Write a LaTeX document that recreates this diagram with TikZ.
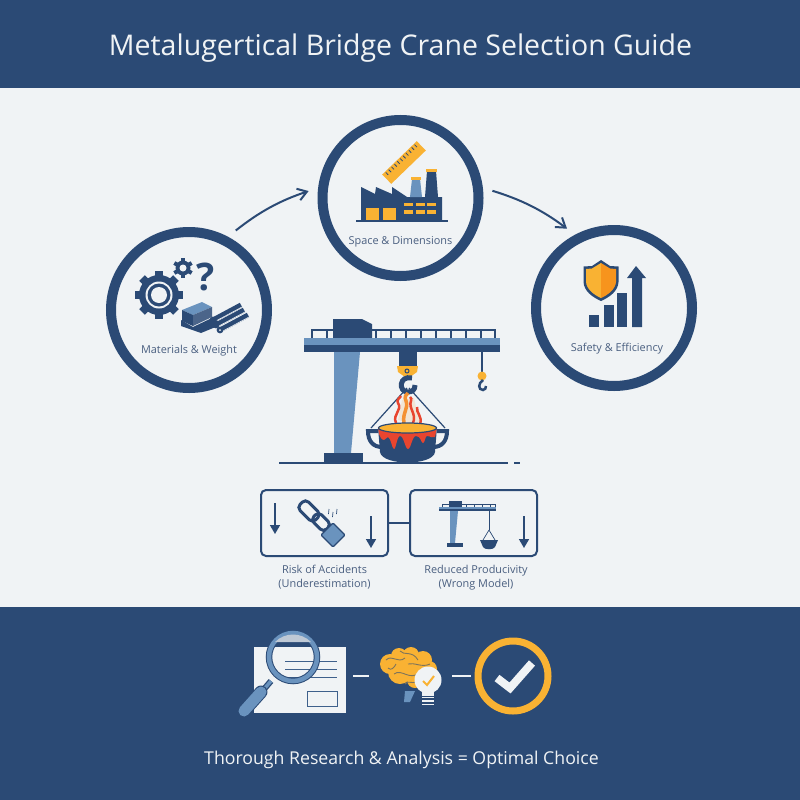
\documentclass[tikz,border=0pt]{standalone}
\usepackage{fontspec}
\setmainfont{Open Sans}
\usetikzlibrary{positioning, arrows.meta}
\definecolor{navy}{HTML}{2B4A75}
\definecolor{steel}{HTML}{6A93BE}
\definecolor{paper}{HTML}{F0F3F5}
\definecolor{amber}{HTML}{F9B233}
\definecolor{deepamber}{HTML}{F7941D}
\definecolor{flame}{HTML}{E8452F}
\definecolor{inktext}{HTML}{4A5F80}
\tikzstyle{stage} = [circle, draw=navy, line width=10pt, minimum size=156pt, inner sep=0pt]
\tikzstyle{caption} = [text=inktext, font=\fontsize{10.9}{14}\selectfont, align=center, inner sep=0pt]
\tikzstyle{outcome} = [rectangle, rounded corners=5pt, draw=navy, line width=2pt, minimum width=127pt, minimum height=66pt, inner sep=0pt]
\tikzstyle{flow} = [navy, line width=2pt, -{Straight Barb[length=9pt,width=12pt]}, shorten <=10pt, shorten >=10pt]
\tikzstyle{drop} = [navy, line width=1.6pt, -{Triangle[length=9pt,width=10pt]}]
\tikzstyle{dashlink} = [paper, line width=2pt]
\begin{document}
\begin{tikzpicture}[x=1pt, y=-1pt, node distance=41pt]
	\useasboundingbox (0,0) rectangle (800,800);
	\fill [paper] (0,0) rectangle (800,800);
	\fill [navy] (0,0) rectangle (800,88);
	\fill [navy] (0,607) rectangle (800,800);
	\node (title) [text=paper, font=\fontsize{28.5}{32}\selectfont] at (400.5,48) {Metalugertical Bridge Crane Selection Guide};
	\node (motto) [text=paper, font=\fontsize{17.7}{20}\selectfont] at (401.5,760) {Thorough Research \& Analysis = Optimal Choice};

	% three questions
	\node (mat) [stage] at (189,310) {};
	\node (space) [stage] at (400.5,198) {};
	\node (safe) [stage] at (614,308) {};
	\node (matcap) [caption, below of=mat] {Materials \& Weight};
	\node (spacecap) [caption, below of=space, yshift=-2.5pt] {Space \& Dimensions};
	\node (safecap) [caption, below of=safe, xshift=3pt] {Safety \& Efficiency};
	\draw [flow] (mat.62) to[bend left=10] (space.173);
	\draw [flow] (space.7) to[bend left=10] (safe.118);

	% gears, question mark, stock
	\foreach \a in {0,45,...,315} \fill [navy, rotate around={\a:(159,295)}] (155,271) rectangle (163,280);
	\fill [navy] (159,295) circle (20);
	\fill [paper] (159,295) circle (13.5);
	\fill [navy] (159,295) circle (11.5);
	\fill [paper] (159,295) circle (8);
	\foreach \a in {0,60,...,300} \fill [navy, rotate around={\a:(183,268)}] (181,258) rectangle (185,262);
	\fill [navy] (183,268) circle (7.5);
	\fill [paper] (183,268) circle (3.5);
	\node (quest) [text=navy, font=\fontsize{38}{40}\selectfont\bfseries, inner sep=0pt] at (206,277) {?};
	\foreach \dx/\dy in {-3/-5,0/0,4/5} {
		\draw [navy, line width=5pt] (216+\dx,325+\dy) -- (244+\dx,310+\dy);
		\draw [paper, line width=.6pt] (218+\dx,326.5+\dy) -- (245+\dx,312+\dy);
		\fill [navy] (216+\dx,325+\dy) circle (3.4);
		\fill [paper] (216+\dx,325+\dy) circle (1);
	}
	\fill [steel] (182,310) -- (202,302) -- (212,307) -- (193,315) -- cycle;
	\fill [navy] (182,310) -- (193,315) -- (193,326) -- (182,321) -- cycle;
	\fill [navy!85] (193,315) -- (212,307) -- (212,317) -- (193,326) -- cycle;
	\fill [navy] (181,320) -- (193,327) -- (212,318) -- (218,321) -- (218,326) -- (201,333) -- (181,326) -- cycle;

	% factory and ruler
	\begin{scope}[shift={(404,162.5)}, rotate=44]
		\fill [amber] (-24,-6.5) rectangle (24,6.5);
		\foreach \t in {-20,-16,...,20} \draw [navy, line width=.8pt] (\t,-5.5) -- (\t,-2);
	\end{scope}
	\fill [navy] (361,221) -- (361,187) -- (375,194) -- (376,187) -- (392,194) -- (392,187) -- (407,197) -- (442,197) -- (442,221) -- cycle;
	\fill [steel] (412,179) -- (420,179) -- (422,197) -- (410,197) -- cycle;
	\fill [amber] (411,177) rectangle (421,180);
	\fill [navy] (427,171) -- (436,171) -- (438,197) -- (425,197) -- cycle;
	\fill [amber] (426,169) rectangle (437,171.5);
	\draw [navy, line width=1.5pt] (356,221) -- (448,221);
	\fill [amber] (366,208) rectangle (379,220);
	\fill [amber] (383,208) rectangle (396,220);
	\foreach \wx in {404,416,427} {
		\fill [amber] (\wx,203) rectangle (\wx+9,206);
		\fill [amber] (\wx,210) rectangle (\wx+9,214);
	}

	% shield and bars
	\fill [navy] (601,260) -- (610,266) -- (618.5,266.5) -- (618.5,282) .. controls (618,291) and (610,297) .. (601,301) .. controls (592,297) and (584,291) .. (583.5,282) -- (583.5,266.5) -- (592,266) -- cycle;
	\fill [amber] (601,263) -- (592,268.5) -- (586,269) -- (586,282) .. controls (586.5,289) and (594,295) .. (601,298) -- cycle;
	\fill [deepamber] (601,263) -- (610,268.5) -- (616,269) -- (616,282) .. controls (615.5,289) and (608,295) .. (601,298) -- cycle;
	\fill [navy] (589,315) rectangle (599,327);
	\fill [navy] (604,305) rectangle (614,327);
	\fill [navy] (617,293) rectangle (627,327);
	\fill [navy] (632,278) -- (627,278) -- (636,266) -- (646,278) -- (642,278) -- (642,327) -- (632,327) -- cycle;

	% main crane
	\fill [navy] (333,319) -- (362,319) -- (372,324) -- (372,338) -- (333,338) -- cycle;
	\draw [navy, line width=1.3pt] (312,338) -- (312,330) -- (333,330);
	\draw [navy, line width=1.3pt] (372,330) -- (495,330) -- (495,338);
	\draw [navy, line width=1.3pt] (327,330) -- (327,338);
	\foreach \px in {376,391,...,481} \draw [navy, line width=1.3pt] (\px,330) -- (\px,338);
	\fill [steel] (334,352) -- (360,352) -- (351,453) -- (334,453) -- cycle;
	\fill [steel] (304,338) rectangle (500,345);
	\fill [navy] (304,345) rectangle (500,352);
	\fill [navy] (324,453) rectangle (363,463);
	\draw [navy, line width=1.5pt] (279,463) -- (508,463);
	\draw [navy, line width=1.5pt] (514,463) -- (520,463);
	\fill [navy] (399,352) rectangle (417,366);
	\fill [amber] (397,366) -- (418,366) -- (417,372) -- (410,377) -- (405,377) -- (398,372) -- cycle;
	\draw [navy, line width=1pt] (407,371) circle (2);
	\draw [navy, line width=1.2pt] (407,388) -- (371,428);
	\draw [navy, line width=1.2pt] (409,388) -- (445,428);
	\draw [navy, line width=5pt] (412,378) .. controls (399,375) and (398,392) .. (408,392) .. controls (412,392) and (415,390) .. (415,385);
	\draw [navy, line width=1.5pt] (482,352) -- (482,372);
	\fill [amber] (482,376) circle (4.5);
	\draw [navy, line width=2.5pt] (483,380) .. controls (478,383) and (478,390) .. (483,390) .. controls (485,390) and (486,388) .. (486,386);

	% ladle and flames
	\fill [paper!85!deepamber] (398,420) -- (402,400) -- (414,398) -- (420,425) -- cycle;
	\draw [flame, line width=2.5pt] (396,423) .. controls (392,414) and (403,410) .. (398,403) .. controls (396,400) and (400,398) .. (401,396);
	\draw [amber!70!flame, line width=3.5pt] (404,423) .. controls (402,413) and (409,408) .. (406,401) .. controls (404,397) and (406,394) .. (408,393);
	\draw [flame, line width=2.5pt] (413,423) .. controls (417,414) and (408,408) .. (411,401) .. controls (412,399) and (411,398) .. (410,397);
	\draw [flame, line width=2.5pt] (420,424) .. controls (423,417) and (416,413) .. (417,407);
	\draw [navy, line width=4pt] (378,431) -- (368,431) .. controls (368,441) and (373,447) .. (382,447);
	\draw [navy, line width=4pt] (437,431) -- (447,431) .. controls (447,441) and (442,447) .. (433,447);
	\fill [navy] (378,427) -- (437,427) -- (435,452) .. controls (433,466) and (382,466) .. (380,452) -- cycle;
	\fill [flame] (378,427) -- (437,427) -- (435,437) .. controls (432,439) and (431,436) .. (427,436) .. controls (425,436) and (425,443) .. (423,443) .. controls (421,443) and (421,436) .. (416,436) .. controls (412,436) and (411,449) .. (408,449) .. controls (405,449) and (404,436) .. (400,436) .. controls (397,436) and (396,449) .. (394,449) .. controls (392,449) and (391,438) .. (388,437) .. controls (386,437) and (386,440) .. (384,440) .. controls (381,440) and (380,436) .. (379,434) -- cycle;
	\fill [amber] (407.5,428) ellipse (29 and 5);
	\draw [navy, line width=1.2pt] (407.5,428) ellipse (29 and 5);

	% outcomes
	\node (risk) [outcome] at (324.5,523) {};
	\node (prod) [outcome] at (473.5,523) {};
	\draw [navy, line width=2pt] (risk) -- (prod);
	\node (riskcap) [caption, below=8pt of risk] {Risk of Accidents\\(Underestimation)};
	\node (prodcap) [caption, below=8pt of prod, xshift=2.5pt] {Reduced Producivity\\(Wrong Model)};
	\draw [drop] (275,503) -- (275,534);
	\draw [drop] (371,516) -- (371,548);
	\draw [drop] (524,516) -- (524,548);
	\begin{scope}[shift={(309,511)}, rotate=-45]
		\draw [navy, line width=3pt, rounded corners=4.5pt] (-11,-6) rectangle (11,6);
	\end{scope}
	\begin{scope}[shift={(321,522)}, rotate=-45]
		\draw [navy, line width=3pt, rounded corners=4.5pt] (-9,-5.5) rectangle (9,5.5);
	\end{scope}
	\fill [steel, draw=navy, line width=1.2pt, rounded corners=1pt] (333,523) -- (345,535) -- (333,547) -- (321,535) -- cycle;
	\foreach \sx/\sy in {329/509,333/512,337/509} \draw [navy, line width=.7pt] (\sx,\sy) -- (\sx-.5,\sy+5);

	% small crane
	\fill [navy] (449,501) rectangle (462,507);
	\draw [navy, line width=.7pt] (442,507) -- (442,504) -- (495,504) -- (495,507);
	\foreach \px in {466,474,...,490} \draw [navy, line width=.7pt] (\px,504) -- (\px,507);
	\fill [steel] (439,507) rectangle (496,509);
	\fill [navy] (439,509) rectangle (496,511);
	\fill [steel] (450,511) -- (458,511) -- (455,543) -- (450,543) -- cycle;
	\fill [navy] (447,543) rectangle (463,547);
	\draw [navy, line width=.8pt] (489,511) -- (489,530);
	\draw [navy, line width=.7pt] (489,530) -- (483,540) (489,530) -- (495,540);
	\fill [navy] (480,540) -- (498,540) -- (495,547) .. controls (494,550) and (484,550) .. (483,547) -- cycle;

	% research, reasoning, verdict
	\node (sheet) [rectangle, fill=paper, minimum width=92pt, minimum height=66pt, inner sep=0pt, outer sep=0pt] at (300,680) {};
	\foreach \ly in {661,669,677} \draw [navy!70!steel, line width=1pt] (285,\ly) -- (337,\ly);
	\draw [navy!70!steel, line width=1pt] (307,691) rectangle (337,706);
	\draw [navy, line width=6pt] (271,681) -- (265,688);
	\draw [steel, line width=3.5pt] (271,681) -- (265,688);
	\draw [navy, line width=13pt, line cap=round] (261,692) -- (244,711);
	\draw [steel, line width=11pt, line cap=round] (261,692) -- (244,711);
	\draw [navy, line width=6.5pt] (293,657) circle (24);
	\draw [steel, line width=4.5pt] (293,657) circle (24);
	\fill [navy!25!paper] (275,642) .. controls (285,632) and (301,632) .. (311,642) -- cycle;
	\foreach \bx/\by/\br in {390/664/10,399/656/8,411/655/8,423/660/9,429/669/8,413/668/12,400/672/12,415/680/8} \fill [amber] (\bx,\by) circle (\br);
	\draw [navy!60!amber, line width=.9pt] (386,660) .. controls (392,654) and (398,664) .. (405,658) (400,651) .. controls (404,656) and (412,650) .. (418,660) (394,674) .. controls (402,668) and (410,682) .. (420,672) (408,664) .. controls (414,662) and (422,668) .. (430,664) (388,668) .. controls (391,671) and (394,668) .. (396,664) (405,684) .. controls (408,680) and (412,684) .. (416,682);
	\fill [steel] (405,691) -- (415,691) -- (410,702) -- (404,702) -- cycle;
	\node (brain) [minimum width=58pt, inner sep=0pt, outer sep=0pt] at (409,676) {};
	\fill [paper] (428,680) circle (13.5);
	\fill [paper] (422,689) rectangle (434,696);
	\foreach \by in {697.5,701,704.5} \draw [paper, line width=1.8pt] (422,\by) -- (434,\by);
	\draw [amber, line width=2pt] (423,681) -- (427,685) -- (434,676);
	\node (verdict) [circle, draw=amber, line width=7pt, minimum size=70pt, inner sep=0pt, outer sep=0pt] at (513,676) {};
	\draw [paper, line width=8pt] (497,678) -- (510,688) -- (532,663);
	\draw [dashlink, shorten <=7pt, shorten >=11pt] (sheet.east |- brain.west) -- (brain.west);
	\draw [dashlink, shorten <=14pt, shorten >=7pt] (brain.east) -- (verdict.west);
\end{tikzpicture}
\end{document}
